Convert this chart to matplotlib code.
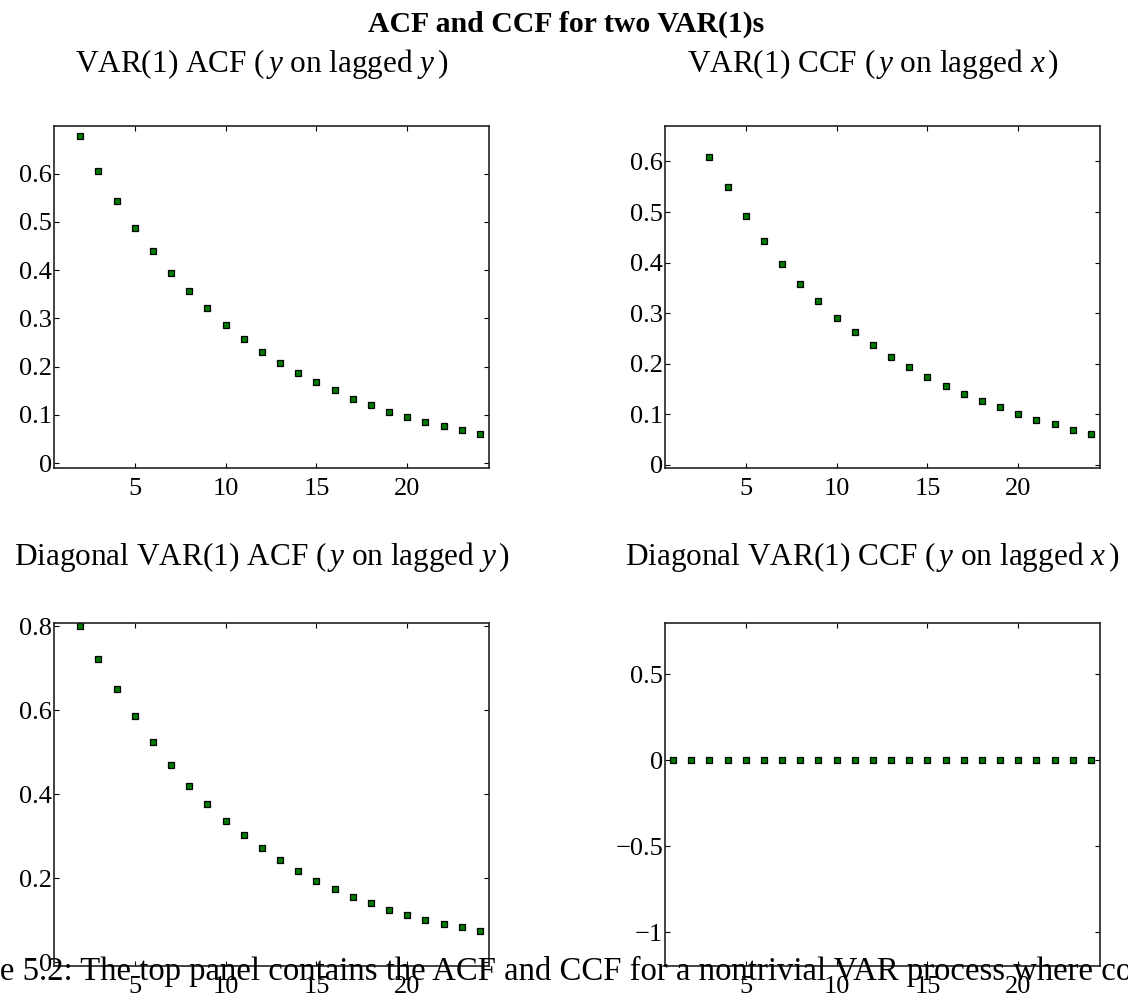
import matplotlib
matplotlib.use("Agg")
import matplotlib.pyplot as plt
from matplotlib.ticker import FuncFormatter

plt.rcParams['font.family'] = ['Liberation Serif', 'DejaVu Serif']
plt.rcParams['mathtext.fontset'] = 'custom'
plt.rcParams['mathtext.rm'] = 'Liberation Serif'
plt.rcParams['mathtext.it'] = 'Liberation Serif:italic'

# values (points clipped by the y limits are left out)
lags_acf = list(range(2, 25))
acf_var = [0.678, 0.606, 0.543, 0.488, 0.439, 0.395, 0.357, 0.321, 0.287, 0.257,
           0.230, 0.207, 0.186, 0.168, 0.151, 0.133, 0.120, 0.106, 0.095, 0.086,
           0.077, 0.068, 0.060]

lags_ccf = list(range(3, 25))
ccf_var = [0.609, 0.549, 0.492, 0.442, 0.398, 0.358, 0.324, 0.291, 0.263, 0.237,
           0.213, 0.193, 0.174, 0.157, 0.140, 0.127, 0.114, 0.100, 0.089, 0.080,
           0.070, 0.061]

lags_acf_diag = list(range(2, 25))
acf_diag = [0.800, 0.722, 0.651, 0.587, 0.525, 0.470, 0.420, 0.376, 0.337, 0.303,
            0.271, 0.243, 0.217, 0.194, 0.174, 0.156, 0.140, 0.125, 0.112, 0.101,
            0.092, 0.083, 0.074]

lags_ccf_diag = list(range(1, 25))
ccf_diag = [0.0, 0.0, 0.0, 0.0, 0.0, 0.0, 0.0, 0.0, 0.0, 0.0, 0.0, 0.0,
            0.0, 0.0, 0.0, 0.0, 0.0, 0.0, 0.0, 0.0, 0.0, 0.0, 0.0, 0.0]

x_ticks = [5, 10, 15, 20]

W, H = 1128, 994
fig = plt.figure(figsize=(W / 100, H / 100), dpi=100)


def px_axes(left, top, right, bottom):
    return fig.add_axes([left / W, 1 - bottom / H, (right - left) / W, (bottom - top) / H])


def fmt(v, pos):
    return ('%g' % v).replace('-', '\u2212')


panels = [
    (px_axes(54, 126, 489, 468), lags_acf, acf_var, (-0.0103, 0.699),
     [0, 0.1, 0.2, 0.3, 0.4, 0.5, 0.6], r'VAR(1) ACF ($\,y$ on lagged $y\,$)', 72),
    (px_axes(665, 126, 1100, 468), lags_ccf, ccf_var, (-0.006, 0.670),
     [0, 0.1, 0.2, 0.3, 0.4, 0.5, 0.6], r'VAR(1) CCF ($\,y$ on lagged $x\,$)', 72),
    (px_axes(54, 623, 489, 966), lags_acf_diag, acf_diag, (-0.009, 0.808),
     [0, 0.2, 0.4, 0.6, 0.8], r'Diagonal VAR(1) ACF ($\,y$ on lagged $y\,$)', 565),
    (px_axes(665, 623, 1100, 966), lags_ccf_diag, ccf_diag, (-1.197, 0.798),
     [-1, -0.5, 0, 0.5], r'Diagonal VAR(1) CCF ($\,y$ on lagged $x\,$)', 565),
]

for ax, lags, vals, ylim, yticks, title, title_base in panels:
    ax.plot(lags, vals, linestyle='none', marker='s', markersize=4.3,
            markerfacecolor='#007a00', markeredgecolor='black', markeredgewidth=0.9)
    ax.set_xlim(0.55, 24.5)
    ax.set_ylim(*ylim)
    ax.set_xticks(x_ticks)
    ax.set_yticks(yticks)
    ax.yaxis.set_major_formatter(FuncFormatter(fmt))
    ax.tick_params(direction='in', top=True, right=True, length=3.5, width=0.8,
                   labelsize=19)
    ax.tick_params(axis='x', pad=7)
    ax.tick_params(axis='y', pad=1.5)
    for s in ax.spines.values():
        s.set_linewidth(1.2)
        s.set_color('#222222')
    pos = ax.get_position()
    cx = (pos.x0 + pos.x1) / 2 - 10 / W
    fig.text(cx, 1 - title_base / H, title, ha='center', va='baseline', fontsize=22.5)

fig.text(566 / W, 1 - 32 / H, 'ACF and CCF for two VAR(1)s', ha='center',
         va='baseline', fontsize=21.4, fontweight='bold')

# caption of the source document that overlaps the bottom of the figure
renderer = fig.canvas.get_renderer()
probe = fig.text(0, 0, 'Figur', fontsize=23.6)
shift = probe.get_window_extent(renderer).width
probe.remove()
fig.text(-shift / W, 1 - 980 / H,
         'Figure 5.2: The top panel contains the ACF and CCF for a nontrivial VAR process where co',
         ha='left', va='baseline', fontsize=23.6)

fig.savefig('out.png', dpi=100)
